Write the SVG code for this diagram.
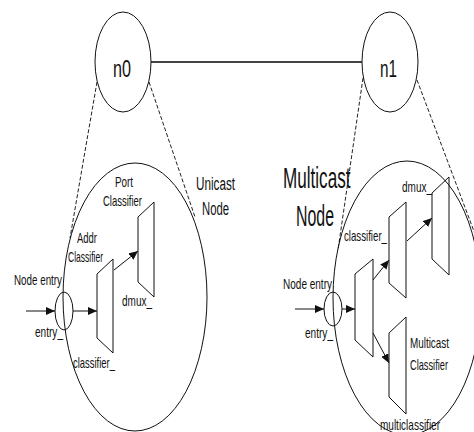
<svg xmlns="http://www.w3.org/2000/svg" width="474" height="432" viewBox="0 0 474 432">
<style>
.ln{stroke:#111;stroke-width:1;fill:none}
.dash{stroke:#222;stroke-width:1;fill:none;stroke-dasharray:4 2}
.t{font-family:"Liberation Sans",Arial,sans-serif;fill:#111}
.s{font-size:15px}
.m{font-size:18px}
.b{font-size:30px}
.n{font-size:23px}
</style>
<defs>
<marker id="ah" markerUnits="userSpaceOnUse" markerWidth="10" markerHeight="8" refX="9" refY="4" orient="auto">
<path d="M0,0 L9,4 L0,8 z" fill="#111"/>
</marker>
</defs>
<rect width="474" height="432" fill="#fff"/>
<g id="connectors">
<line x1="151" y1="62" x2="362" y2="62" stroke="#444" stroke-width="2"/>
<line class="dash" x1="97" y1="82" x2="70" y2="238"/>
<line class="dash" x1="149" y1="82" x2="195" y2="217"/>
<line class="dash" x1="363" y1="78" x2="338" y2="250"/>
<line class="dash" x1="417" y1="80" x2="475" y2="234"/>
<line class="ln" x1="26" y1="311" x2="55" y2="311" marker-end="url(#ah)"/>
<line class="ln" x1="73" y1="311" x2="97" y2="311" marker-end="url(#ah)"/>
<line class="ln" x1="114" y1="270" x2="138" y2="251" marker-end="url(#ah)"/>
<line class="ln" x1="295" y1="309" x2="324" y2="309" marker-end="url(#ah)"/>
<line class="ln" x1="342" y1="309" x2="355" y2="309" marker-end="url(#ah)"/>
<line class="ln" x1="373" y1="280" x2="389" y2="260" marker-end="url(#ah)"/>
<line class="ln" x1="407" y1="241" x2="432" y2="218" marker-end="url(#ah)"/>
<line class="ln" x1="373" y1="333" x2="389" y2="363" marker-end="url(#ah)"/>
</g>
<g id="n0">
<ellipse class="ln" cx="123" cy="62" rx="28" ry="50"/>
<text class="t n" x="113" y="77" textLength="18" lengthAdjust="spacingAndGlyphs">n0</text>
</g>
<g id="n1">
<ellipse class="ln" cx="390" cy="62" rx="28" ry="50"/>
<text class="t n" x="380" y="77" textLength="17" lengthAdjust="spacingAndGlyphs">n1</text>
</g>
<g id="unicast-node">
<ellipse class="ln" cx="135" cy="297" rx="72" ry="134"/>
<text class="t m" x="196" y="190" textLength="39" lengthAdjust="spacingAndGlyphs">Unicast</text>
<text class="t m" x="202" y="215" textLength="27" lengthAdjust="spacingAndGlyphs">Node</text>
</g>
<g id="u-entry">
<ellipse class="ln" cx="64" cy="311" rx="9" ry="19"/>
<text class="t s" x="14" y="285" textLength="48" lengthAdjust="spacingAndGlyphs">Node entry</text>
<text class="t s" x="35" y="337" textLength="28" lengthAdjust="spacingAndGlyphs">entry_</text>
</g>
<g id="u-classifier">
<polygon class="ln" points="97,274 113,259 113,353 97,338"/>
<text class="t s" x="77" y="243" textLength="20" lengthAdjust="spacingAndGlyphs">Addr</text>
<text class="t s" x="68" y="262" textLength="35" lengthAdjust="spacingAndGlyphs">Classifier</text>
<text class="t s" x="73" y="368" textLength="42" lengthAdjust="spacingAndGlyphs">classifier_</text>
</g>
<g id="u-dmux">
<polygon class="ln" points="138,217 154,202 154,297 138,282"/>
<text class="t s" x="115" y="187" textLength="18" lengthAdjust="spacingAndGlyphs">Port</text>
<text class="t s" x="103" y="206" textLength="39" lengthAdjust="spacingAndGlyphs">Classifier</text>
<text class="t s" x="122" y="306" textLength="30" lengthAdjust="spacingAndGlyphs">dmux_</text>
</g>
<g id="multicast-node">
<ellipse class="ln" cx="407" cy="298" rx="74" ry="137"/>
<text class="t b" transform="translate(283,188) scale(0.57,1)">Multicast</text>
<text class="t b" transform="translate(296,226) scale(0.53,1)">Node</text>
</g>
<g id="m-entry">
<ellipse class="ln" cx="333" cy="309" rx="9" ry="17"/>
<text class="t s" x="283" y="289" textLength="49" lengthAdjust="spacingAndGlyphs">Node entry</text>
<text class="t s" x="305" y="338" textLength="28" lengthAdjust="spacingAndGlyphs">entry_</text>
</g>
<g id="m-switch">
<polygon class="ln" points="355,274 373,259 373,357 355,340"/>
</g>
<g id="m-classifier">
<polygon class="ln" points="389,217 406,202 406,298 389,283"/>
<text class="t s" x="344" y="241" textLength="43" lengthAdjust="spacingAndGlyphs">classifier_</text>
</g>
<g id="m-dmux">
<polygon class="ln" points="432,193 449,177 449,275 432,259"/>
<text class="t s" x="402" y="192" textLength="30" lengthAdjust="spacingAndGlyphs">dmux_</text>
</g>
<g id="m-multiclassifier">
<polygon class="ln" points="389,333 406,317 406,414 389,397"/>
<text class="t s" x="410" y="348" textLength="39" lengthAdjust="spacingAndGlyphs">Multicast</text>
<text class="t s" x="410" y="370" textLength="38" lengthAdjust="spacingAndGlyphs">Classifier</text>
<text class="t s" x="380" y="430" textLength="60" lengthAdjust="spacingAndGlyphs">multiclassifier</text>
</g>
</svg>
